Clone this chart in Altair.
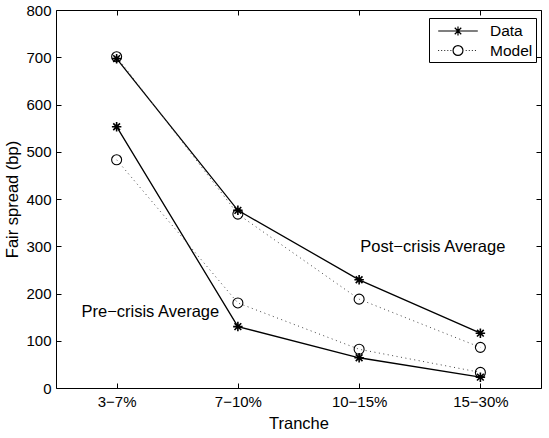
import json

import altair as alt
import pandas as pd

# Tranche categories and their positions on the x axis
tranches = ["3−7%", "7−10%", "10−15%", "15−30%"]
positions = [1, 2, 3, 4]

# Fair spreads in basis points
pre_data = [553, 130, 64, 23]
pre_model = [483, 180, 82, 33]
post_data = [697, 376, 229, 116]
post_model = [701, 368, 188, 86]

y_ticks = [0, 100, 200, 300, 400, 500, 600, 700, 800]

# Text annotations (anchor in data units)
note_text = ["Pre−crisis Average", "Post−crisis Average"]
note_x = [0.71, 3.01]
note_y = [160, 298]

series_names = ["Data", "Model"]

rows = []
for period, d_vals, m_vals in (("Pre-crisis", pre_data, pre_model),
                               ("Post-crisis", post_data, post_model)):
    for pos, dv, mv in zip(positions, d_vals, m_vals):
        rows.append({"pos": pos, "period": period, "series": "Data", "spread": dv})
        rows.append({"pos": pos, "period": period, "series": "Model", "spread": mv})
df = pd.DataFrame(rows)
notes = pd.DataFrame({"x": note_x, "y": note_y, "label": note_text})

FONT = "Liberation Sans"
W, H = 485, 378
TICK = 5

x_scale = alt.Scale(domain=[0.5, 4.5], nice=False, zero=False)
y_scale = alt.Scale(domain=[0, 800], nice=False, zero=False)
label_expr = json.dumps(tranches, ensure_ascii=False) + "[datum.value - 1]"

# Inward ticks: each axis is pulled inside the frame by the tick length
bottom_axis = alt.Axis(orient="bottom", values=positions, labelExpr=label_expr,
                       title="Tranche", offset=-TICK, tickSize=TICK, domain=False,
                       grid=False, labelPadding=6, titleY=40, titleX=W / 2,
                       titleBaseline="middle", titleAlign="center")
left_axis = alt.Axis(orient="left", values=y_ticks, title="Fair spread (bp)",
                     offset=-TICK, tickSize=TICK, domain=False, grid=False,
                     labelPadding=5, titleX=-49, titleY=H / 2,
                     titleBaseline="middle", titleAlign="center")
top_axis = alt.Axis(orient="top", values=positions, labels=False, title=None,
                    offset=-TICK, tickSize=TICK, domain=False, grid=False)
right_axis = alt.Axis(orient="right", values=y_ticks, labels=False, title=None,
                      offset=-TICK, tickSize=TICK, domain=False, grid=False)


def xy(xfield, yfield, xaxis=None, yaxis=None):
    return dict(
        x=alt.X(xfield, scale=x_scale, axis=xaxis),
        y=alt.Y(yfield, scale=y_scale, axis=yaxis),
    )


base = alt.Chart(df)

data_line = base.transform_filter(alt.datum.series == "Data").mark_line(
    color="black", strokeWidth=1.3
).encode(detail="period:N", **xy("pos:Q", "spread:Q", bottom_axis, left_axis))

model_line = base.transform_filter(alt.datum.series == "Model").mark_line(
    color="#444444", strokeWidth=1, strokeDash=[1, 3.5]
).encode(detail="period:N", **xy("pos:Q", "spread:Q", top_axis, right_axis))

asterisk = "M-1,0L1,0M0,-1L0,1M-0.71,-0.71L0.71,0.71M-0.71,0.71L0.71,-0.71"
data_pts = base.transform_filter(alt.datum.series == "Data").mark_point(
    shape=asterisk, size=90, color="black", filled=False, strokeWidth=1.6, opacity=1
).encode(**xy("pos:Q", "spread:Q"))

model_pts = base.transform_filter(alt.datum.series == "Model").mark_point(
    shape="circle", size=100, color="black", filled=False, strokeWidth=1.1, opacity=1
).encode(**xy("pos:Q", "spread:Q"))

text = alt.Chart(notes).mark_text(
    align="left", baseline="middle", font=FONT, fontSize=16.5, color="black"
).encode(text="label:N", **xy("x:Q", "y:Q"))

# Legend symbols: a line segment with the marker in the middle
legend_line_data = "M-2.2,0L2.2,0" + \
    "M-0.5,0L0.5,0M0,-0.5L0,0.5M-0.36,-0.36L0.36,0.36M-0.36,0.36L0.36,-0.36"
dots = ""
k = -2.2
while k <= 2.2:
    if abs(k) > 0.75:
        dots += f"M{k:.2f},0L{k + 0.1:.2f},0"
    k += 0.34
legend_line_model = dots + "M0.55,0A0.55,0.55 0 1,1 -0.55,0A0.55,0.55 0 1,1 0.55,0"

legend_layer = base.transform_filter("false").mark_point(
    filled=False, color="black", strokeWidth=1.2, opacity=1
).encode(
    shape=alt.Shape(
        "series:N",
        scale=alt.Scale(domain=series_names, range=[legend_line_data, legend_line_model]),
        legend=alt.Legend(
            title=None, orient="none", legendX=373, legendY=8,
            strokeColor="black", fillColor="white", padding=3,
            symbolSize=324, symbolOffset=16, labelOffset=22, rowPadding=0.5,
            symbolStrokeColor="black", symbolStrokeWidth=1.2,
            symbolFillColor="transparent", symbolOpacity=1,
            labelFont=FONT, labelFontSize=15.5, labelColor="black",
        ),
    ),
    **xy("pos:Q", "spread:Q"),
)

chart = alt.layer(
    data_line, model_line, data_pts, model_pts, text, legend_layer
).resolve_axis(
    x="independent", y="independent"
).properties(
    width=W, height=H,
    autosize=alt.AutoSizeParams(type="none"),
    padding={"left": 56, "top": 10, "right": 8, "bottom": 50},
    background="white",
).configure_view(
    stroke="black", strokeWidth=1
).configure_axis(
    labelFont=FONT, labelFontSize=15, labelColor="black",
    titleFont=FONT, titleFontSize=16.5, titleFontWeight="normal", titleColor="black",
    tickColor="black", tickWidth=1,
)

chart.save("out.html", embed_options={"renderer": "svg", "actions": False})
